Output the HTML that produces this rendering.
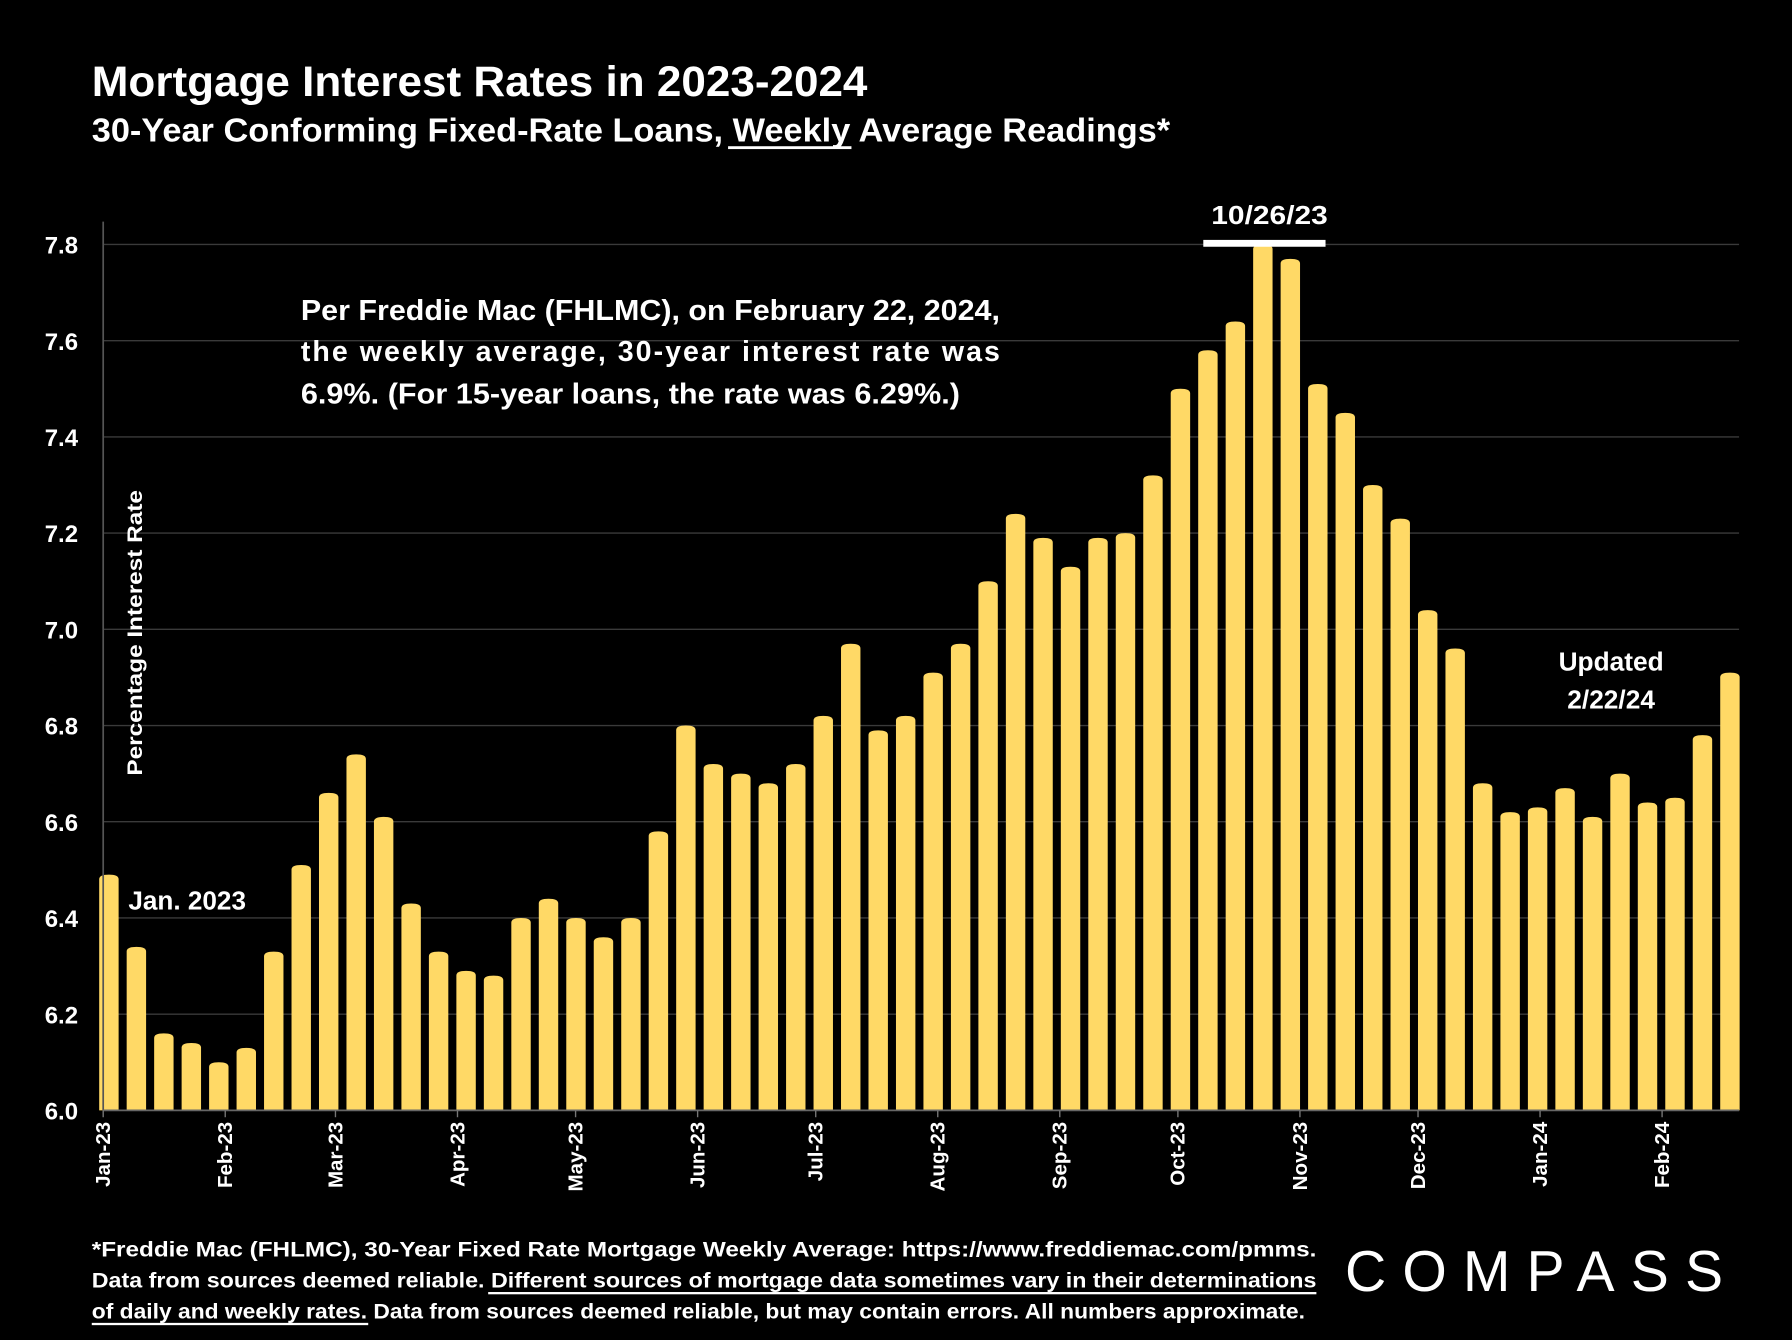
<!DOCTYPE html>
<html><head><meta charset="utf-8"><style>
html,body{margin:0;padding:0;background:#000;}
svg{display:block;}
text{font-family:"Liberation Sans",sans-serif;fill:#fff;font-weight:bold;}
.n{font-family:"Liberation Sans Narrow","Liberation Sans",sans-serif;}
</style></head><body>
<svg id="chart" width="1792" height="1340" viewBox="0 0 1568 1173" xmlns="http://www.w3.org/2000/svg">
<rect width="1568" height="1173" fill="#000"/>
<text x="80" y="84" font-size="37" textLength="679" lengthAdjust="spacingAndGlyphs" class="n">Mortgage Interest Rates in 2023-2024</text>
<text x="80" y="124" font-size="29" textLength="944" lengthAdjust="spacingAndGlyphs" class="n">30-Year Conforming Fixed-Rate Loans, Weekly Average Readings*</text>
<rect x="637" y="128" width="108" height="2.5" fill="#fff"/>
<g id="grid"></g>
<g id="bars"></g>
<g id="yaxis"></g>
<g id="xaxis"></g>
<text transform="translate(124,554) rotate(-90)" text-anchor="middle" font-size="19" textLength="250" lengthAdjust="spacingAndGlyphs" class="n">Percentage Interest  Rate</text>
<g font-size="25">
<text x="263" y="280" textLength="612" lengthAdjust="spacingAndGlyphs" class="n">Per Freddie Mac (FHLMC), on February 22, 2024,</text>
<text x="263" y="316" textLength="612" lengthAdjust="spacing" class="n">the  weekly  average,  30-year  interest  rate  was</text>
<text x="263" y="353" textLength="577" lengthAdjust="spacingAndGlyphs" class="n">6.9%. (For 15-year loans, the rate was 6.29%.)</text>
</g>
<text x="1111" y="196" text-anchor="middle" font-size="23" class="n" textLength="102" lengthAdjust="spacingAndGlyphs">10/26/23</text>
<rect x="1053" y="210" width="107" height="6" fill="#fff"/>
<text x="1410" y="587" text-anchor="middle" font-size="23" class="n">Updated</text>
<text x="1410" y="620" text-anchor="middle" font-size="23" class="n">2/22/24</text>
<text x="112" y="796" font-size="23" class="n" textLength="103" lengthAdjust="spacingAndGlyphs">Jan. 2023</text>
<g font-size="19">
<text x="80" y="1100" textLength="1072" lengthAdjust="spacingAndGlyphs" class="n">*Freddie Mac (FHLMC), 30-Year Fixed Rate Mortgage Weekly Average:   https://www.freddiemac.com/pmms.</text>
<text x="80" y="1127" textLength="1072" lengthAdjust="spacingAndGlyphs" class="n">Data from sources deemed reliable. Different sources of mortgage data sometimes vary in their determinations</text>
<text x="80" y="1154" textLength="1062" lengthAdjust="spacingAndGlyphs" class="n">of daily and weekly rates. Data from sources deemed reliable, but may contain errors. All numbers approximate.</text>
<rect x="427" y="1131" width="725" height="2" fill="#fff"/>
<rect x="80" y="1158" width="242" height="2" fill="#fff"/>
</g>
<text x="1177" y="1130" font-size="50" font-weight="normal" style="font-weight:normal" textLength="331" lengthAdjust="spacing">COMPASS</text>
</svg>
<script>
const values=[6.49,6.34,6.16,6.14,6.10,6.13,6.33,6.51,6.66,6.74,6.61,6.43,6.33,6.29,6.28,6.40,6.44,6.40,6.36,6.40,6.58,6.80,6.72,6.70,6.68,6.72,6.82,6.97,6.79,6.82,6.91,6.97,7.10,7.24,7.19,7.13,7.19,7.20,7.32,7.50,7.58,7.64,7.80,7.77,7.51,7.45,7.30,7.23,7.04,6.96,6.68,6.62,6.63,6.67,6.61,6.70,6.64,6.65,6.78,6.91];
const yTicks=[6.0,6.2,6.4,6.6,6.8,7.0,7.2,7.4,7.6,7.8];
const monthLabels=["Jan-23","Feb-23","Mar-23","Apr-23","May-23","Jun-23","Jul-23","Aug-23","Sep-23","Oct-23","Nov-23","Dec-23","Jan-24","Feb-24"];
const monthDays=[0,31,59,90,120,151,181,212,243,273,304,334,365,396];
const NS="http://www.w3.org/2000/svg";
const X0=90,X1=1522,Y0=972,YT=214;
const y=v=>Y0-(v-6.0)/(7.8-6.0)*(Y0-YT);
const xb=i=>95+i*(1514-95)/(values.length-1);
const xd=d=>X0+d*3.446;
function mk(t,a,p){const e=document.createElementNS(NS,t);for(const k in a)e.setAttribute(k,a[k]);p.appendChild(e);return e;}
const grid=document.getElementById('grid'),bars=document.getElementById('bars'),ya=document.getElementById('yaxis'),xa=document.getElementById('xaxis');
yTicks.forEach(v=>{
  if(v>6.0){const l=mk('line',{x1:X0,x2:X1,y1:y(v),y2:y(v),stroke:'#3a3a3a','stroke-width':1.2},grid);
  
  }
  const t=mk('text',{x:68,y:y(v)+8,'text-anchor':'end','font-size':21},ya);
  t.textContent=v.toFixed(1);
  
  
});
const bw=17;
values.forEach((v,i)=>{
  const cx=xb(i),top=Math.max(y(v),YT-2),r=4;
  const p=mk('path',{d:`M${cx-bw/2},${Y0}V${top+r}Q${cx-bw/2},${top} ${cx},${top}Q${cx+bw/2},${top} ${cx+bw/2},${top+r}V${Y0}Z`,fill:'#FFD966'},bars);
  
  
});
const ax=mk('line',{x1:X0,x2:X0,y1:194,y2:Y0,stroke:'#555','stroke-width':1.5},xa);


const bl=mk('line',{x1:X0,x2:X1,y1:Y0,y2:Y0,stroke:'#666','stroke-width':1.5},xa);


monthLabels.forEach((m,i)=>{
  const x=xd(monthDays[i]);
  mk('line',{x1:x,x2:x,y1:Y0,y2:Y0+6,stroke:'#777','stroke-width':1.2},xa);
  const t=mk('text',{transform:`translate(${x+6},982) rotate(-90)`,'text-anchor':'end','font-size':18,class:'n'},xa);
  t.textContent=m;
  
  
});
</script>
</body></html>
